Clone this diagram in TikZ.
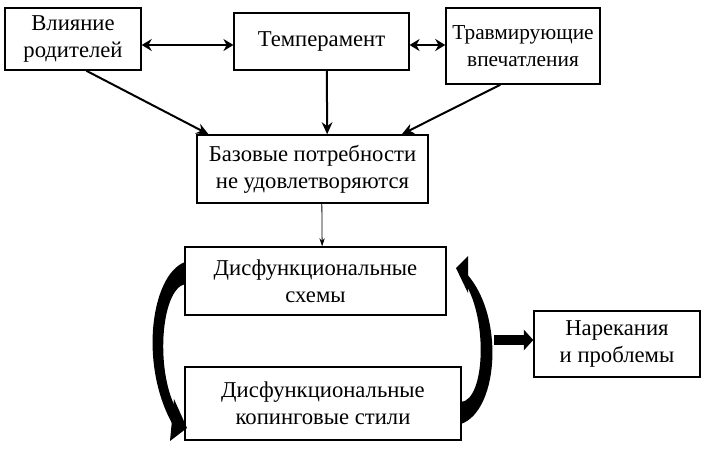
\documentclass[tikz,border=0pt]{standalone}
\usepackage{fontspec}
\setmainfont{Liberation Serif}
\usetikzlibrary{arrows.meta,calc}

\begin{document}
\begin{tikzpicture}[x=0.75pt, y=-0.75pt, >=Stealth,
  font=\fontsize{17}{20}\selectfont,
  box/.style={draw,line width=1.1pt,align=center,inner sep=2pt},
  conn/.style={->,line width=1.5pt,>={Stealth[length=9pt,width=8pt]}},
  both/.style={<->,line width=2.2pt,>={Stealth[length=7.5pt,width=9pt]}}]
\useasboundingbox (0,0) rectangle (708,455);
% top row
\node[box,minimum width=102pt,minimum height=46.5pt] (infl) at (73,39) {Влияние\\родителей};
\node[box,minimum width=131pt,minimum height=43pt] (temp) at (321.5,41.5) {Темперамент};
\node[box,minimum width=115.5pt,minimum height=57pt,font=\fontsize{16}{20}\selectfont] (trauma) at (523,46) {Травмирующие\\впечатления};
% middle
\node[box,minimum width=173pt,minimum height=51pt] (needs) at (312.5,169) {Базовые потребности\\не удовлетворяются};
\node[box,minimum width=196pt,minimum height=51pt] (schemes) at (315.5,281) {Дисфункциональные\\схемы};
\node[box,minimum width=207pt,minimum height=55pt] (coping) at (323,403.5) {Дисфункциональные\\копинговые стили};
\node[box,minimum width=124.5pt,minimum height=49.5pt] (compl) at (617,344) {Нарекания\\и проблемы};
% arrows between boxes
\draw[both] (infl.east |- 0,45) -- (temp.west |- 0,45);
\draw[both] (temp.east |- 0,45) -- (trauma.west |- 0,45);
\draw[conn] ([xshift=10pt]infl.south) -- ([xshift=-78pt]needs.north);
\draw[conn] ([xshift=4pt]temp.south) -- ([xshift=11pt]needs.north);
\draw[conn] ([xshift=-17pt]trauma.south) -- ([xshift=67pt]needs.north);
\draw[->,line width=0.6pt,>={Stealth[length=6pt,width=4pt]}] ([xshift=7pt]needs.south) -- ([xshift=5pt]schemes.north);
% left loop
\fill (185,262) .. controls (150,275) and (138,370) .. (176,430)
  -- (178,412) .. controls (155,375) and (160,290) .. (185,284) -- cycle;
\fill (174,399) -- (187,428) -- (170,441) -- cycle;
% right loop
\fill (461,424) .. controls (500,410) and (505,310) .. (463,270)
  -- (465,283) .. controls (488,320) and (485,400) .. (461,402) -- cycle;
\fill (468,256) -- (456,268) -- (468,293) -- cycle;
\coordinate (bulge) at (494,340);
\draw[-{Triangle[length=7pt,width=15pt]},line width=8pt] (bulge) -- (compl.west |- bulge);
\end{tikzpicture}
\end{document}
